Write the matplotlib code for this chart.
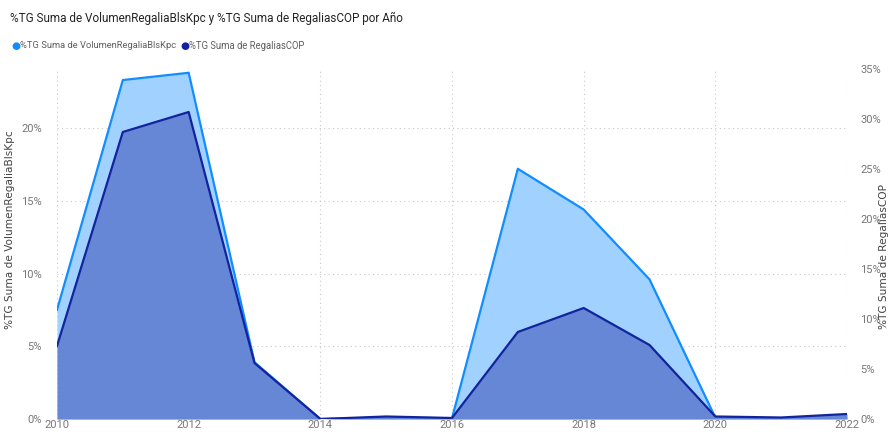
import matplotlib
matplotlib.use("Agg")
import matplotlib.pyplot as plt
from matplotlib.ticker import FuncFormatter

plt.rcParams['font.family'] = ['Roboto', 'DejaVu Sans']

years = [2010, 2011, 2012, 2013, 2014, 2015, 2016, 2017, 2018, 2019, 2020, 2021, 2022]
# %TG Suma de VolumenRegaliaBlsKpc (left axis)
volumen = [7.5, 23.3, 23.8, 3.9, 0.0, 0.1, 0.05, 17.2, 14.4, 9.6, 0.1, 0.05, 0.15]
# %TG Suma de RegaliasCOP (right axis)
regalias = [7.3, 28.7, 30.7, 5.6, 0.0, 0.25, 0.1, 8.7, 11.1, 7.4, 0.25, 0.15, 0.5]

title = "%TG Suma de VolumenRegaliaBlsKpc y %TG Suma de RegaliasCOP por Año"
name_vol = "%TG Suma de VolumenRegaliaBlsKpc"
name_reg = "%TG Suma de RegaliasCOP"

light_line = "#118DFF"
light_fill = "#A1D1FF"
dark_line = "#12239E"
dark_fill = "#6687D6"
tick_color = "#777777"
grid_color = "#C8C8C8"

W, H = 891, 433
fig = plt.figure(figsize=(W / 100, H / 100), dpi=100)
ax = fig.add_axes([57 / W, 1 - 419 / H, (847 - 57) / W, (419 - 69) / H])
ax2 = ax.twinx()

ax.set_xlim(2010, 2022)
ax.set_ylim(0, 24.06)
ax2.set_ylim(0, 35)

# light series on left axis, dark series on right axis
ax.fill_between(years, volumen, 0, color=light_fill, lw=0, zorder=1)
ax.plot(years, volumen, color=light_line, lw=1.6, zorder=3)

ax2.fill_between(years, regalias, 0, color=dark_fill, lw=0, zorder=2)
ax2.plot(years, regalias, color=dark_line, lw=1.6, zorder=4)

pct = FuncFormatter(lambda v, p: f"{v:.0f}%")
ax.set_yticks([0, 5, 10, 15, 20])
ax.yaxis.set_major_formatter(pct)
ax2.set_yticks([0, 5, 10, 15, 20, 25, 30, 35])
ax2.yaxis.set_major_formatter(pct)
ax.set_xticks(list(range(2010, 2023, 2)))

ax.grid(True, axis='both', color=grid_color, ls=(0, (1, 3)), lw=0.8)
ax.set_axisbelow(True)
for a in (ax, ax2):
    for s in a.spines.values():
        s.set_visible(False)
    a.tick_params(length=0, labelsize=8, colors=tick_color)
ax.tick_params(axis='x', pad=1)
ax.tick_params(axis='y', pad=11)
ax2.tick_params(axis='y', pad=9.5)

ax.set_ylabel(name_vol, fontsize=7.6, color="#444444", family='DejaVu Sans')
ax.yaxis.set_label_coords(-0.053, 0.54)
ax2.set_ylabel(name_reg, fontsize=7.6, color="#444444", rotation=90, family='DejaVu Sans')
ax2.yaxis.set_label_coords(1.041, 0.463)


def fit_width(txt, px):
    # shrink/grow a text so its rendered width is px pixels
    fig.canvas.draw()
    w = txt.get_window_extent().width
    txt.set_fontsize(txt.get_fontsize() * px / w)


t = fig.text(10 / W, 1 - 18 / H, title, fontsize=10, color="#252423", va='center', ha='left')
fit_width(t, 393)

# legend row
lx = 11
for name, col, width in ((name_vol, light_line, 158), (name_reg, dark_line, 116)):
    fig.text(lx / W, 1 - 46 / H, "●", fontsize=7.5, color=col, va='center', ha='left',
             family='DejaVu Sans')
    t = fig.text((lx + 9) / W, 1 - 46 / H, name, fontsize=8, color="#605E5C",
                 va='center', ha='left')
    fit_width(t, width)
    fig.canvas.draw()
    lx = t.get_window_extent().x1 + 4

fig.savefig("out.png", dpi=100)
